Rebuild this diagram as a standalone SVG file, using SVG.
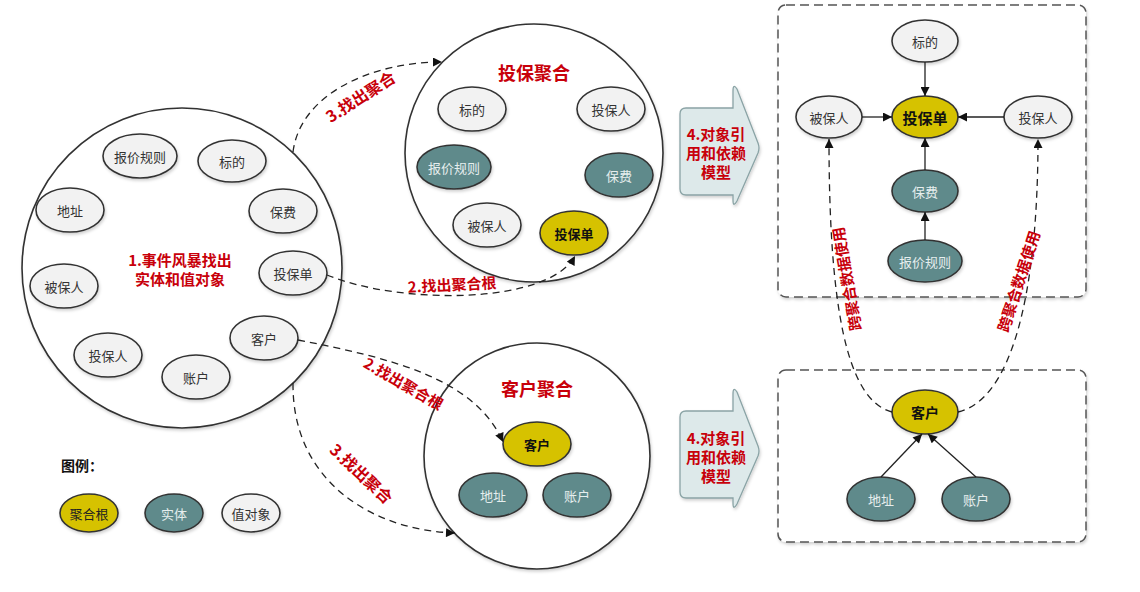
<svg xmlns="http://www.w3.org/2000/svg" width="1140" height="592" viewBox="0 0 1140 592">
<defs>
<style>
text{font-family:"Noto Sans CJK SC","Noto Sans",sans-serif;text-anchor:middle;dominant-baseline:central}
.big{fill:#fff;stroke:#333;stroke-width:1.6}
.v{fill:#f2f2f2;stroke:#333;stroke-width:1.6}
.e{fill:#5f8a8b;stroke:#333;stroke-width:1.6}
.r{fill:#d6c200;stroke:#333;stroke-width:1.6}
.tv{font-size:13px;fill:#333}
.te{font-size:13px;fill:#e6eeee}
.tr{font-size:13px;fill:#111;font-weight:bold}
.red{font-size:15px;fill:#c8000a;font-weight:bold}
.dash{fill:none;stroke:#222;stroke-width:1.3;stroke-dasharray:7 5}
.solid{fill:none;stroke:#222;stroke-width:1.3}
.box{fill:#fff;stroke:#555;stroke-width:1.5;stroke-dasharray:9 5}
.blk{fill:#dde9ea;stroke:#8aa3a5;stroke-width:1.3}
</style>
<marker id="ah" viewBox="0 0 10 10" refX="10" refY="5" markerWidth="10" markerHeight="9" markerUnits="userSpaceOnUse" orient="auto">
<path d="M0,0 L10,5 L0,10 Z" fill="#111"/>
</marker>
<filter id="sh" x="-20%" y="-20%" width="140%" height="140%">
<feDropShadow dx="1" dy="2" stdDeviation="1.5" flood-color="#000" flood-opacity="0.18"/>
</filter>
<path id="blockArrow" d="M686,108 L733,108 L733,91 Q733,83 737,89 L758,143 Q760,148 758,153 L737,201 Q733,208 733,200 L733,195 L686,195 Q680,195 680,189 L680,114 Q680,108 686,108 Z"/>
</defs>
<rect width="1140" height="592" fill="#fff"/>

<!-- Left big circle -->
<g id="all-objects">
<circle class="big" cx="182" cy="268" r="160" filter="url(#sh)"/>
<text class="red" x="180" y="259">1.事件风暴找出</text>
<text class="red" x="180" y="278">实体和值对象</text>
</g>
<g id="l-baojiaguize"><ellipse class="v" cx="140" cy="156" rx="37" ry="22" filter="url(#sh)"/><text class="tv" x="140" y="156">报价规则</text></g>
<g id="l-biaodi"><ellipse class="v" cx="232" cy="161" rx="34" ry="21" filter="url(#sh)"/><text class="tv" x="232" y="161">标的</text></g>
<g id="l-dizhi"><ellipse class="v" cx="70" cy="210" rx="34" ry="22" filter="url(#sh)"/><text class="tv" x="70" y="210">地址</text></g>
<g id="l-baofei"><ellipse class="v" cx="283" cy="211" rx="34" ry="22" filter="url(#sh)"/><text class="tv" x="283" y="211">保费</text></g>
<g id="l-toubaodan"><ellipse class="v" cx="293" cy="273" rx="34" ry="22" filter="url(#sh)"/><text class="tv" x="293" y="273">投保单</text></g>
<g id="l-beibaoren"><ellipse class="v" cx="64" cy="286" rx="34" ry="22" filter="url(#sh)"/><text class="tv" x="64" y="286">被保人</text></g>
<g id="l-kehu"><ellipse class="v" cx="264" cy="338" rx="34" ry="22" filter="url(#sh)"/><text class="tv" x="264" y="338">客户</text></g>
<g id="l-toubaoren"><ellipse class="v" cx="108" cy="355" rx="34" ry="22" filter="url(#sh)"/><text class="tv" x="108" y="355">投保人</text></g>
<g id="l-zhanghu"><ellipse class="v" cx="196" cy="377" rx="34" ry="22" filter="url(#sh)"/><text class="tv" x="196" y="377">账户</text></g>

<!-- 投保聚合 -->
<g id="policy-aggregate">
<circle class="big" cx="534" cy="153" r="129" filter="url(#sh)"/>
<text class="red" x="534" y="72" style="font-size:18px">投保聚合</text>
</g>
<g id="p-biaodi"><ellipse class="v" cx="472" cy="109" rx="34" ry="22" filter="url(#sh)"/><text class="tv" x="472" y="109">标的</text></g>
<g id="p-toubaoren"><ellipse class="v" cx="611" cy="109" rx="34" ry="22" filter="url(#sh)"/><text class="tv" x="611" y="109">投保人</text></g>
<g id="p-baojiaguize"><ellipse class="e" cx="454" cy="167" rx="37" ry="22" filter="url(#sh)"/><text class="te" x="454" y="167">报价规则</text></g>
<g id="p-baofei"><ellipse class="e" cx="619" cy="175" rx="34" ry="22" filter="url(#sh)"/><text class="te" x="619" y="175">保费</text></g>
<g id="p-beibaoren"><ellipse class="v" cx="487" cy="225" rx="34" ry="22" filter="url(#sh)"/><text class="tv" x="487" y="225">被保人</text></g>
<g id="p-toubaodan"><ellipse class="r" cx="574" cy="233" rx="34" ry="22" filter="url(#sh)"/><text class="tr" x="574" y="233">投保单</text></g>

<!-- 客户聚合 -->
<g id="customer-aggregate">
<circle class="big" cx="537" cy="456" r="113" filter="url(#sh)"/>
<text class="red" x="537" y="388" style="font-size:18px">客户聚合</text>
</g>
<g id="c-kehu"><ellipse class="r" cx="537" cy="444" rx="34" ry="22" filter="url(#sh)"/><text class="tr" x="537" y="444">客户</text></g>
<g id="c-dizhi"><ellipse class="e" cx="493" cy="495" rx="34" ry="22" filter="url(#sh)"/><text class="te" x="493" y="495">地址</text></g>
<g id="c-zhanghu"><ellipse class="e" cx="577" cy="495" rx="34" ry="22" filter="url(#sh)"/><text class="te" x="577" y="495">账户</text></g>

<!-- Block arrows -->
<g id="model-arrow-1">
<use href="#blockArrow" class="blk" filter="url(#sh)"/>
<text class="red" x="716" y="133">4.对象引</text>
<text class="red" x="716" y="152">用和依赖</text>
<text class="red" x="716" y="171">模型</text>
</g>
<g id="model-arrow-2">
<use href="#blockArrow" class="blk" transform="translate(0,303)" filter="url(#sh)"/>
<text class="red" x="716" y="437">4.对象引</text>
<text class="red" x="716" y="456">用和依赖</text>
<text class="red" x="716" y="475">模型</text>
</g>

<!-- Dashed boxes -->
<g id="policy-model">
<rect class="box" x="778" y="5" width="308" height="292" rx="8" filter="url(#sh)"/>
</g>
<g id="customer-model">
<rect class="box" x="778" y="370" width="308" height="172" rx="8" filter="url(#sh)"/>
</g>

<g id="m-biaodi"><ellipse class="v" cx="925" cy="41" rx="33" ry="21" filter="url(#sh)"/><text class="tv" x="925" y="41">标的</text></g>
<g id="m-beibaoren"><ellipse class="v" cx="829" cy="117" rx="33" ry="21" filter="url(#sh)"/><text class="tv" x="829" y="117">被保人</text></g>
<g id="m-toubaodan"><ellipse class="r" cx="925" cy="117" rx="33" ry="21" filter="url(#sh)"/><text class="tr" x="925" y="117" style="font-size:15px">投保单</text></g>
<g id="m-toubaoren"><ellipse class="v" cx="1038" cy="117" rx="34" ry="21" filter="url(#sh)"/><text class="tv" x="1038" y="117">投保人</text></g>
<g id="m-baofei"><ellipse class="e" cx="925" cy="191" rx="33" ry="21" filter="url(#sh)"/><text class="te" x="925" y="191">保费</text></g>
<g id="m-baojiaguize"><ellipse class="e" cx="925" cy="261" rx="37" ry="21" filter="url(#sh)"/><text class="te" x="925" y="261">报价规则</text></g>
<g id="m-kehu"><ellipse class="r" cx="925" cy="412" rx="33" ry="22" filter="url(#sh)"/><text class="tr" x="925" y="412" style="font-size:14px">客户</text></g>
<g id="m-dizhi"><ellipse class="e" cx="881" cy="499" rx="34" ry="22" filter="url(#sh)"/><text class="te" x="881" y="499">地址</text></g>
<g id="m-zhanghu"><ellipse class="e" cx="976" cy="499" rx="34" ry="22" filter="url(#sh)"/><text class="te" x="976" y="499">账户</text></g>

<!-- Connectors -->
<g id="connectors">
<path class="dash" d="M293,152 C300,95 370,62 442,62" marker-end="url(#ah)"/>
<path class="dash" d="M327,275 C400,305 548,305 575,256" marker-end="url(#ah)"/>
<path class="dash" d="M298,340 C390,358 475,378 503,442" marker-end="url(#ah)"/>
<path class="dash" d="M293,383 C292,480 370,530 455,533" marker-end="url(#ah)"/>
<path class="solid" d="M925,62 L925,96" marker-end="url(#ah)"/>
<path class="solid" d="M862,117 L892,117" marker-end="url(#ah)"/>
<path class="solid" d="M1004,117 L958,117" marker-end="url(#ah)"/>
<path class="solid" d="M925,170 L925,138" marker-end="url(#ah)"/>
<path class="solid" d="M925,240 L925,212" marker-end="url(#ah)"/>
<path class="solid" d="M881,477 L922,434" marker-end="url(#ah)"/>
<path class="solid" d="M976,477 L928,434" marker-end="url(#ah)"/>
<path class="dash" d="M892,412 C845,400 829,300 829,139" marker-end="url(#ah)"/>
<path class="dash" d="M958,412 C1010,400 1038,300 1038,139" marker-end="url(#ah)"/>
<text class="red" transform="translate(360,96) rotate(-33)" style="font-size:16px">3.找出聚合</text>
<text class="red" transform="translate(452,284) rotate(-3)">2.找出聚合根</text>
<text class="red" transform="translate(404,383) rotate(30)">2.找出聚合根</text>
<text class="red" transform="translate(362,473) rotate(43)" style="font-size:16px">3.找出聚合</text>
<text class="red" transform="translate(846,279) rotate(-100)">跨聚合数据使用</text>
<text class="red" transform="translate(1018,281) rotate(-72)">跨聚合数据使用</text>
</g>

<!-- Legend -->
<g id="legend">
<text x="82" y="465" style="font-size:14px;font-weight:bold;fill:#111">图例：</text>
</g>
<g id="legend-root"><ellipse class="r" cx="89" cy="513" rx="29" ry="19" filter="url(#sh)"/><text class="tv" x="89" y="513" style="fill:#222">聚合根</text></g>
<g id="legend-entity"><ellipse class="e" cx="174" cy="513" rx="29" ry="19" filter="url(#sh)"/><text class="te" x="174" y="513">实体</text></g>
<g id="legend-value"><ellipse class="v" cx="251" cy="513" rx="29" ry="19" filter="url(#sh)"/><text class="tv" x="251" y="513">值对象</text></g>
</svg>
